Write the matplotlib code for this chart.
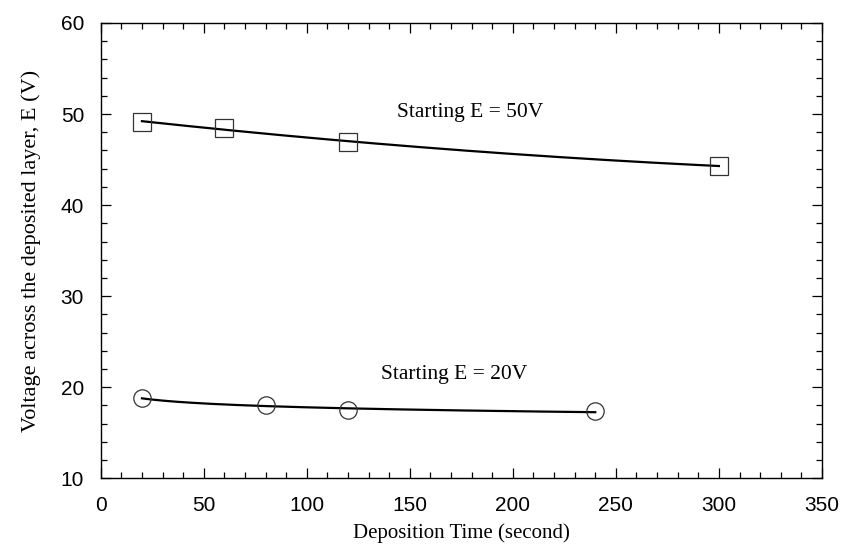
import numpy as np
import matplotlib
matplotlib.use("Agg")
import matplotlib.pyplot as plt
from matplotlib.ticker import MultipleLocator

# readings taken off the figure
t_50 = [20, 60, 120, 300]
e_50 = [49.1, 48.5, 46.9, 44.3]
t_20 = [20, 80, 120, 240]
e_20 = [18.8, 18.0, 17.5, 17.35]

fig = plt.figure(figsize=(8.43, 5.57), dpi=100)
ax = fig.add_axes([0.1195, 0.1413, 0.8555, 0.8175])

serif = ['Liberation Serif', 'DejaVu Serif']
sans = ['Liberation Sans', 'DejaVu Sans']


def smooth_fit(ax, t, e, logx=False):
    # smooth curve through the points, as the original plotting program did
    t = np.asarray(t, float)
    tt = np.linspace(t.min(), t.max(), 200)
    if logx:
        coef = np.polyfit(np.log(t), e, 1)
        yy = np.polyval(coef, np.log(tt))
    else:
        coef = np.polyfit(t, e, 2)
        yy = np.polyval(coef, tt)
    ax.plot(tt, yy, color='black', lw=1.6, zorder=2)


smooth_fit(ax, t_50, e_50)
smooth_fit(ax, t_20, e_20, logx=True)
ax.plot(t_50, e_50, ls='none', marker='s', ms=13, mfc='none', mec='#333333', mew=0.9, zorder=3)
ax.plot(t_20, e_20, ls='none', marker='o', ms=12.5, mfc='none', mec='#333333', mew=0.9, zorder=3)

ax.text(144, 50.2, 'Starting E = 50V', family=serif, fontsize=15.5, va='center', ha='left')
ax.text(136, 21.4, 'Starting E = 20V', family=serif, fontsize=15.5, va='center', ha='left')

ax.set_xlim(0, 350)
ax.set_ylim(10, 60)
ax.xaxis.set_major_locator(MultipleLocator(50))
ax.xaxis.set_minor_locator(MultipleLocator(10))
ax.yaxis.set_major_locator(MultipleLocator(10))
ax.yaxis.set_minor_locator(MultipleLocator(2))

ax.tick_params(which='both', direction='in', top=True, right=True, width=0.9)
ax.tick_params(which='major', length=7.5)
ax.tick_params(which='minor', length=4)
ax.tick_params(axis='x', which='major', pad=13)
ax.tick_params(axis='y', which='major', pad=12)
for lab in ax.get_xticklabels() + ax.get_yticklabels():
    lab.set_family(sans)
    lab.set_fontsize(15)

for sp in ax.spines.values():
    sp.set_linewidth(1.0)

ax.set_xlabel('Deposition Time (second)', family=serif, fontsize=15, labelpad=6)
ax.set_ylabel('Voltage across the deposited layer, E (V)', family=serif, fontsize=16, labelpad=14)

fig.savefig('out.png', dpi=100)
